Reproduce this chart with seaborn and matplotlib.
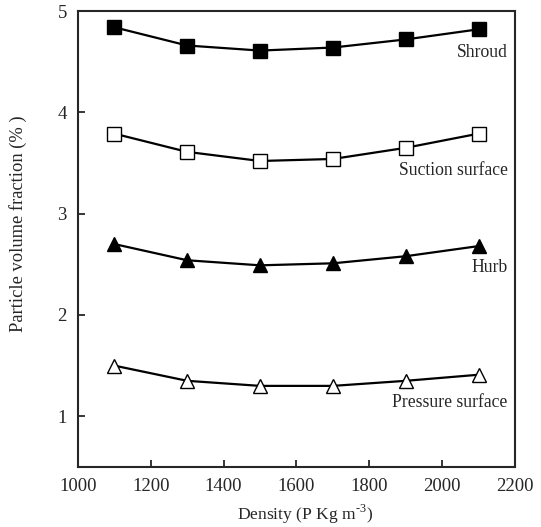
import numpy as np
import pandas as pd
import matplotlib
matplotlib.use('Agg')
import matplotlib.pyplot as plt
import seaborn as sns

# data
density = [1100, 1300, 1500, 1700, 1900, 2100]
shroud = [4.84, 4.66, 4.61, 4.64, 4.72, 4.82]
suction = [3.79, 3.61, 3.52, 3.54, 3.65, 3.79]
hurb = [2.70, 2.54, 2.49, 2.51, 2.58, 2.68]
pressure = [1.50, 1.35, 1.30, 1.30, 1.35, 1.41]

names = ['Shroud', 'Suction surface', 'Hurb', 'Pressure surface']
label_y = [4.59, 3.43, 2.47, 1.14]

sns.set_style('ticks')
plt.rcParams['font.family'] = ['Liberation Serif', 'DejaVu Serif']
plt.rcParams['mathtext.fontset'] = 'custom'
plt.rcParams['mathtext.rm'] = 'Liberation Serif'

fig = plt.figure(figsize=(5.41, 5.27), dpi=100)
ax = fig.add_axes([0.144, 0.114, 0.808, 0.865])

series = [shroud, suction, hurb, pressure]
markers = ['s', 's', '^', '^']
faces = ['black', 'white', 'black', 'white']
for vals, m, fc in zip(series, markers, faces):
    sns.lineplot(x=density, y=vals, ax=ax, color='black', lw=1.6,
                 marker=m, markersize=9.5, markerfacecolor=fc,
                 markeredgecolor='black', markeredgewidth=1.0)

for name, yy in zip(names, label_y):
    ax.text(2180, yy, name, ha='right', va='center', fontsize=12.7)

ax.set_xlim(1000, 2200)
ax.set_ylim(0.5, 5)
ax.set_xticks(np.arange(1000, 2201, 200))
ax.set_yticks([1, 2, 3, 4, 5])
ax.tick_params(direction='in', length=5, width=1.3, labelsize=13.5, pad=8)
for s in ax.spines.values():
    s.set_linewidth(1.5)
ax.set_xlabel('Density (P Kg m$^{\u20103}$)', fontsize=12.6)
ax.xaxis.set_label_coords(0.52, -0.078)
ax.set_ylabel('Particle volume fraction (% )', fontsize=13.3)
ax.yaxis.set_label_coords(-0.117, 0.533)

fig.savefig('out.png', dpi=100)
